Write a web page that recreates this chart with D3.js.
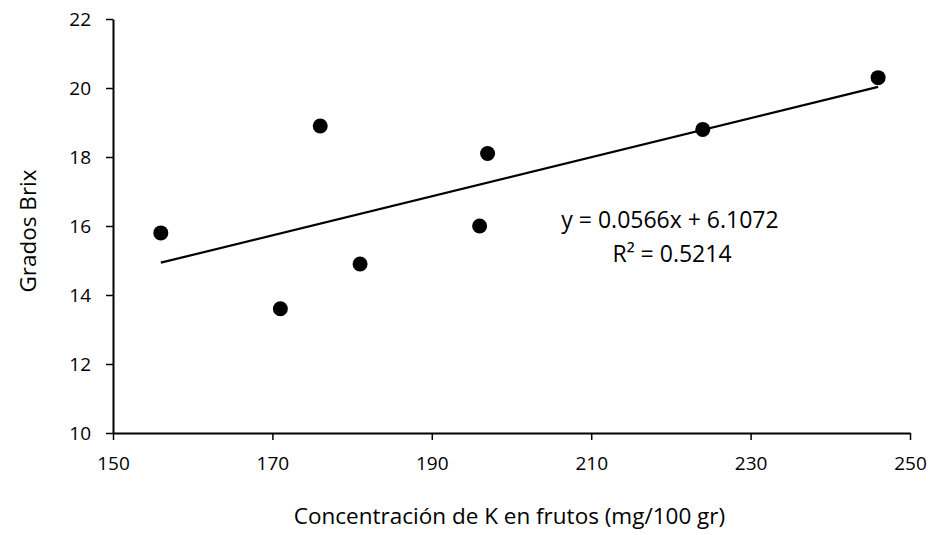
<!DOCTYPE html>
<html>
<head>
<meta charset="utf-8">
<script src="https://cdn.jsdelivr.net/npm/d3@7"></script>
<style>
  body { margin: 0; background: #fff; }
  svg text { font-family: "Open Sans", sans-serif; fill: #000; }
</style>
</head>
<body>
<svg id="chart"></svg>
<script>
// potassium concentration vs brix
var kConc = [156, 171, 176, 181, 196, 197, 224, 246];
var brix  = [15.8, 13.6, 18.9, 14.9, 16.0, 18.1, 18.8, 20.3];
var xTicks = [150, 170, 190, 210, 230, 250];
var yTicks = [10, 12, 14, 16, 18, 20, 22];
var slope = 0.0566, intercept = 6.1072, r2 = 0.5214;

var W = 951, H = 535;
var m = {top: 19, right: 41, bottom: 102, left: 113};
var w = W - m.left - m.right;
var h = H - m.top - m.bottom;

var svg = d3.select('#chart').attr('width', W).attr('height', H);
var g = svg.append('g').attr('transform', 'translate(' + m.left + ',' + m.top + ')');

var x = d3.scaleLinear().domain([150, 250]).range([0, w]);
var y = d3.scaleLinear().domain([10, 22]).range([h, 0]);

var xAxis = g.append('g')
  .attr('transform', 'translate(0,' + h + ')')
  .call(d3.axisBottom(x).tickValues(xTicks).tickSize(7).tickPadding(13).tickSizeOuter(0));
var yAxis = g.append('g')
  .call(d3.axisLeft(y).tickValues(yTicks).tickSize(7).tickPadding(15).tickSizeOuter(0));

[xAxis, yAxis].forEach(function(a){
  a.select('.domain').attr('stroke', '#000').attr('stroke-width', 2);
  a.selectAll('.tick line').attr('stroke', '#000').attr('stroke-width', 1.5);
  a.selectAll('.tick text').style('font-size', '19px').attr('fill', '#000');
});
xAxis.selectAll('.tick text').attr('dy', '0.9em');

// trend line over data range
var xr = d3.extent(kConc);
g.append('line')
  .attr('x1', x(xr[0])).attr('y1', y(slope * xr[0] + intercept))
  .attr('x2', x(xr[1])).attr('y2', y(slope * xr[1] + intercept))
  .attr('stroke', '#000').attr('stroke-width', 2.2);

g.selectAll('circle.pt')
  .data(kConc).enter()
  .append('circle')
    .attr('class', 'pt')
    .attr('cx', function(d){ return x(d); })
    .attr('cy', function(d, i){ return y(brix[i]); })
    .attr('r', 7.5)
    .attr('fill', '#000');

// equation label
var eq = svg.append('text')
  .attr('text-anchor', 'middle')
  .style('font-size', '23px');
eq.append('tspan').attr('x', 670).attr('y', 228)
  .text('y = ' + slope + 'x + ' + intercept);
eq.append('tspan').attr('x', 672).attr('y', 262)
  .text('R² = ' + r2);

svg.append('text')
  .attr('x', m.left + w / 2 - 2).attr('y', 524)
  .attr('text-anchor', 'middle')
  .style('font-size', '22.5px')
  .text('Concentración de K en frutos (mg/100 gr)');

svg.append('text')
  .attr('transform', 'translate(27,231) rotate(-90)')
  .attr('text-anchor', 'middle')
  .attr('dominant-baseline', 'central')
  .style('font-size', '22.5px')
  .text('Grados Brix');
</script>
</body>
</html>
